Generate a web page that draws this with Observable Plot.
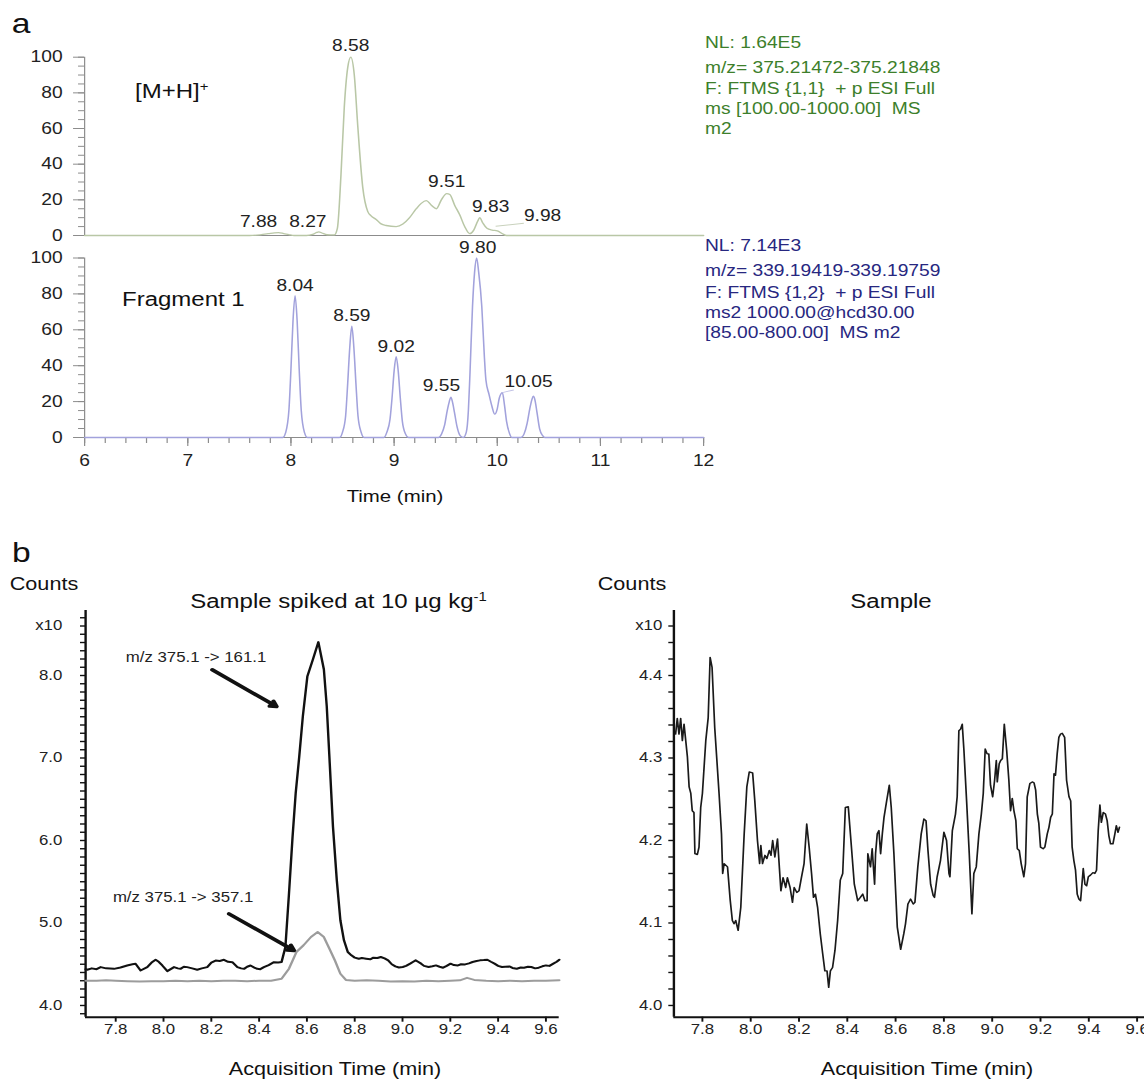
<!DOCTYPE html>
<html>
<head>
<meta charset="utf-8">
<script src="https://cdn.jsdelivr.net/npm/d3@7"></script>
<script src="https://cdn.jsdelivr.net/npm/@observablehq/plot@0.6"></script>
<style>
  html, body { margin: 0; padding: 0; background: #fff; overflow: hidden; width: 1144px; height: 1080px; }
  /* the whole figure is drawn with a slight horizontal stretch */
  #fig { position: absolute; left: 0; top: 0; width: 953.33px; height: 1080px;
         transform: scaleX(1.2); transform-origin: 0 0;
         font-family: "Liberation Sans", Arial, Helvetica, sans-serif; }
  .lbl { position: absolute; white-space: pre; line-height: 1; }
  .sup { font-size: 0.62em; position: relative; top: -0.55em; }
</style>
</head>
<body>
<div id="fig"></div>
<script>
// ---------------- panel a : extracted ion chromatograms (relative abundance, %) ----------------
const mhTime = [6.00, 7.60, 7.70, 7.78, 7.84, 7.88, 7.93, 7.98, 8.03, 8.15, 8.21, 8.25, 8.27, 8.30, 8.35, 8.42,
  8.45, 8.485, 8.517, 8.55, 8.58, 8.614, 8.647, 8.696, 8.744, 8.777, 8.826, 8.874, 8.923, 9.02, 9.085, 9.15,
  9.215, 9.263, 9.312, 9.361, 9.41, 9.458, 9.51, 9.54, 9.587, 9.636, 9.684, 9.733, 9.772, 9.81, 9.83, 9.86,
  9.90, 9.95, 10.00, 10.05, 10.09, 12.00];
const mhRel = [0, 0, 0.4, 1.0, 1.5, 1.6, 1.1, 0.5, 0, 0, 0.6, 1.7, 2.0, 1.4, 0.4, 0.3,
  4, 34, 72, 94, 100, 90, 62, 27, 13.5, 11, 9, 6.5, 5.6, 5, 6.4, 10,
  15, 18, 19.5, 17, 15, 20, 23.5, 23, 17, 11.6, 5, 1, 3, 8, 10, 7,
  4, 3, 2.6, 1, 0, 0];

const fragTime = [6.00, 7.92, 7.95, 7.98, 8.00, 8.02, 8.04, 8.06, 8.08, 8.10, 8.13, 8.16,
  8.47, 8.50, 8.53, 8.55, 8.57, 8.59, 8.61, 8.63, 8.65, 8.68, 8.71,
  8.90, 8.93, 8.96, 8.98, 9.00, 9.02, 9.04, 9.06, 9.08, 9.11, 9.14,
  9.43, 9.46, 9.49, 9.515, 9.535, 9.55, 9.565, 9.585, 9.61, 9.64, 9.67,
  9.70, 9.72, 9.735, 9.76, 9.78, 9.80, 9.82, 9.85, 9.875, 9.89, 9.92, 9.95, 9.975, 10.00, 10.02, 10.05,
  10.07, 10.09, 10.12, 10.14,
  10.23, 10.26, 10.29, 10.315, 10.335, 10.35, 10.365, 10.385, 10.41, 10.44, 10.46, 12.00];
const fragRel = [0, 0, 3, 15, 38, 65, 79, 65, 38, 15, 3, 0,
  0, 3, 12, 30, 50, 62, 50, 30, 12, 3, 0,
  0, 3, 10, 22, 37, 45, 37, 22, 9, 2, 0,
  0, 2, 7, 15, 20, 22.5, 20, 14, 6, 1, 0,
  3, 15, 35, 73, 92, 100, 92, 73, 45, 32, 24, 17, 13, 16, 22, 25,
  18, 9, 2, 0,
  0, 2, 8, 16, 21, 23, 21, 14, 5, 1, 0, 0];

// labelled apexes
const mhPeakTime = [8.58, 7.88, 8.27, 9.51, 9.83, 9.98];
const mhPeakRel = [100, 1.6, 2.0, 23.5, 10, 2.4];
const fragPeakTime = [8.04, 8.59, 9.02, 9.55, 9.80, 10.05];
const fragPeakRel = [79, 62, 45, 22.5, 100, 25];

const yTicksA = [0, 20, 40, 60, 80, 100];
const xTicksA = [6, 7, 8, 9, 10, 11, 12];

const nlMH = ["NL: 1.64E5", "m/z= 375.21472-375.21848", "F: FTMS {1,1}  + p ESI Full", "ms [100.00-1000.00]  MS", "m2"];
const nlFrag = ["NL: 7.14E3", "m/z= 339.19419-339.19759", "F: FTMS {1,2}  + p ESI Full", "ms2 1000.00@hcd30.00", "[85.00-800.00]  MS m2"];

// ---------------- panel b : MRM chromatograms (counts x10) ----------------
// quantifier transition m/z 375.1 -> 161.1, spiked sample
const quantIon = [
  [7.674, 4.44], [7.681, 4.433], [7.70, 4.45], [7.72, 4.44], [7.737, 4.465], [7.76, 4.45], [7.793, 4.444],
  [7.82, 4.46], [7.848, 4.485], [7.87, 4.50], [7.883, 4.505], [7.904, 4.424], [7.932, 4.465], [7.95, 4.52],
  [7.967, 4.554], [7.98, 4.53], [7.995, 4.485], [8.016, 4.416], [8.03, 4.44], [8.044, 4.465], [8.06, 4.45],
  [8.071, 4.444], [8.085, 4.47], [8.099, 4.465], [8.12, 4.45], [8.141, 4.433], [8.16, 4.45], [8.183, 4.465],
  [8.20, 4.52], [8.218, 4.545], [8.235, 4.54], [8.253, 4.554], [8.27, 4.53], [8.288, 4.525], [8.309, 4.465],
  [8.325, 4.45], [8.337, 4.444], [8.35, 4.47], [8.364, 4.485], [8.38, 4.46], [8.392, 4.444], [8.405, 4.44],
  [8.42, 4.465], [8.44, 4.49], [8.462, 4.525], [8.48, 4.52], [8.494, 4.527],
  [8.510, 4.709], [8.525, 5.358], [8.540, 6.047], [8.553, 6.573], [8.568, 7.019], [8.583, 7.506],
  [8.602, 7.992], [8.625, 8.195], [8.648, 8.405], [8.671, 8.073], [8.683, 7.627], [8.694, 7.019],
  [8.709, 6.168], [8.725, 5.520], [8.740, 5.033], [8.755, 4.790], [8.771, 4.648], [8.786, 4.608],
  [8.80, 4.58], [8.817, 4.567], [8.83, 4.575], [8.848, 4.567], [8.865, 4.56], [8.878, 4.58], [8.895, 4.575],
  [8.909, 4.588], [8.925, 4.57], [8.94, 4.547], [8.955, 4.50], [8.97, 4.474], [8.985, 4.46], [9.001, 4.466],
  [9.015, 4.48], [9.032, 4.507], [9.045, 4.53], [9.055, 4.547], [9.065, 4.53], [9.078, 4.507], [9.09, 4.48],
  [9.109, 4.466], [9.125, 4.475], [9.14, 4.486], [9.155, 4.47], [9.17, 4.458], [9.185, 4.48], [9.201, 4.507],
  [9.215, 4.49], [9.232, 4.486], [9.245, 4.50], [9.262, 4.498], [9.278, 4.51], [9.293, 4.527], [9.31, 4.54],
  [9.324, 4.547], [9.34, 4.55], [9.355, 4.555], [9.37, 4.53], [9.385, 4.507], [9.40, 4.48], [9.416, 4.466],
  [9.43, 4.47], [9.447, 4.474], [9.46, 4.455], [9.478, 4.446], [9.495, 4.46], [9.508, 4.458], [9.525, 4.47],
  [9.539, 4.466], [9.555, 4.45], [9.57, 4.458], [9.585, 4.475], [9.60, 4.486], [9.615, 4.48], [9.631, 4.507],
  [9.645, 4.53], [9.656, 4.555]
];
// qualifier transition m/z 375.1 -> 357.1, spiked sample
const qualTime = [7.674, 7.72, 7.76, 7.80, 7.85, 7.90, 7.95, 8.00, 8.05, 8.10, 8.15, 8.20, 8.25, 8.30, 8.35, 8.40,
  8.45, 8.494, 8.525, 8.556, 8.586, 8.617, 8.645, 8.671, 8.694, 8.717, 8.740, 8.763, 8.80, 8.85, 8.90, 8.95,
  9.00, 9.05, 9.10, 9.15, 9.20, 9.24, 9.27, 9.30, 9.35, 9.40, 9.45, 9.50, 9.55, 9.60, 9.656];
const qualCounts = [4.30, 4.30, 4.305, 4.30, 4.295, 4.29, 4.295, 4.295, 4.30, 4.295, 4.30, 4.295, 4.30, 4.30, 4.295, 4.30,
  4.30, 4.324, 4.446, 4.648, 4.73, 4.83, 4.89, 4.83, 4.69, 4.547, 4.385, 4.31, 4.30, 4.305, 4.30, 4.29,
  4.295, 4.29, 4.30, 4.295, 4.30, 4.305, 4.335, 4.31, 4.30, 4.295, 4.30, 4.295, 4.30, 4.30, 4.305];

// unspiked sample
const sampleTrace = [
  [7.689, 4.329], [7.696, 4.348], [7.703, 4.329], [7.710, 4.348], [7.717, 4.321], [7.724, 4.341], [7.731, 4.321],
  [7.738, 4.301], [7.745, 4.265], [7.752, 4.257], [7.758, 4.236], [7.765, 4.234], [7.769, 4.184], [7.779, 4.183],
  [7.786, 4.192], [7.793, 4.240], [7.800, 4.257], [7.814, 4.321], [7.824, 4.349], [7.832, 4.422], [7.840, 4.410],
  [7.851, 4.337], [7.869, 4.257], [7.879, 4.208], [7.884, 4.160], [7.890, 4.172], [7.904, 4.168], [7.915, 4.128],
  [7.924, 4.103], [7.931, 4.099], [7.938, 4.103], [7.948, 4.091], [7.959, 4.119], [7.973, 4.208], [7.984, 4.265],
  [7.994, 4.283], [8.008, 4.282], [8.017, 4.248], [8.028, 4.200], [8.037, 4.172], [8.042, 4.194], [8.049, 4.172],
  [8.059, 4.182], [8.067, 4.178], [8.077, 4.188], [8.084, 4.182], [8.091, 4.200], [8.100, 4.180], [8.111, 4.202],
  [8.125, 4.139], [8.134, 4.155], [8.145, 4.143], [8.152, 4.155], [8.163, 4.143], [8.173, 4.125], [8.180, 4.143],
  [8.191, 4.137], [8.200, 4.139], [8.210, 4.155], [8.221, 4.172], [8.232, 4.220], [8.242, 4.192], [8.252, 4.160],
  [8.260, 4.131], [8.268, 4.135], [8.277, 4.119], [8.288, 4.087], [8.298, 4.063], [8.307, 4.042], [8.316, 4.042],
  [8.323, 4.022], [8.330, 4.042], [8.339, 4.046], [8.349, 4.067], [8.360, 4.103], [8.371, 4.152], [8.381, 4.160],
  [8.392, 4.240], [8.404, 4.241], [8.415, 4.200], [8.429, 4.147], [8.443, 4.127], [8.454, 4.131], [8.464, 4.135],
  [8.473, 4.127], [8.482, 4.127], [8.485, 4.184], [8.496, 4.168], [8.503, 4.190], [8.513, 4.147], [8.517, 4.184],
  [8.524, 4.208], [8.531, 4.212], [8.538, 4.184], [8.545, 4.208], [8.552, 4.228], [8.563, 4.248], [8.574, 4.267],
  [8.582, 4.240], [8.593, 4.184], [8.607, 4.095], [8.621, 4.068], [8.634, 4.087], [8.641, 4.099], [8.651, 4.123],
  [8.662, 4.129], [8.673, 4.123], [8.680, 4.125], [8.692, 4.168], [8.706, 4.208], [8.717, 4.226], [8.726, 4.224],
  [8.734, 4.188], [8.745, 4.147], [8.756, 4.133], [8.761, 4.131], [8.772, 4.156], [8.786, 4.176], [8.800, 4.210],
  [8.811, 4.200], [8.821, 4.160], [8.825, 4.156], [8.835, 4.212], [8.848, 4.232], [8.855, 4.253], [8.862, 4.333],
  [8.869, 4.335], [8.876, 4.341], [8.883, 4.309], [8.894, 4.248], [8.905, 4.184], [8.916, 4.111], [8.924, 4.160],
  [8.934, 4.168], [8.945, 4.208], [8.955, 4.232], [8.963, 4.257], [8.971, 4.311], [8.979, 4.305], [8.986, 4.305],
  [8.993, 4.267], [9.002, 4.253], [9.010, 4.273], [9.017, 4.297], [9.021, 4.271], [9.029, 4.293], [9.035, 4.297],
  [9.042, 4.299], [9.050, 4.341], [9.060, 4.309], [9.069, 4.273], [9.076, 4.236], [9.083, 4.251], [9.090, 4.236],
  [9.098, 4.224], [9.104, 4.190], [9.112, 4.188], [9.120, 4.172], [9.131, 4.156], [9.138, 4.172], [9.145, 4.253],
  [9.156, 4.269], [9.166, 4.271], [9.173, 4.270], [9.180, 4.261], [9.187, 4.232], [9.193, 4.221], [9.200, 4.192],
  [9.211, 4.190], [9.218, 4.192], [9.228, 4.208], [9.235, 4.216], [9.242, 4.228], [9.249, 4.232], [9.256, 4.281],
  [9.262, 4.279], [9.269, 4.305], [9.276, 4.325], [9.283, 4.329], [9.290, 4.330], [9.300, 4.325], [9.308, 4.273],
  [9.318, 4.253], [9.325, 4.248], [9.331, 4.192], [9.338, 4.176], [9.345, 4.164], [9.352, 4.135], [9.359, 4.129],
  [9.366, 4.127], [9.377, 4.166], [9.384, 4.147], [9.391, 4.145], [9.398, 4.156], [9.407, 4.158], [9.417, 4.161],
  [9.425, 4.160], [9.432, 4.164], [9.439, 4.212], [9.446, 4.243], [9.452, 4.222], [9.460, 4.234], [9.469, 4.232],
  [9.476, 4.224], [9.483, 4.206], [9.490, 4.196], [9.500, 4.196], [9.508, 4.208], [9.514, 4.218], [9.521, 4.210],
  [9.527, 4.216]
];

const xTicksB = [7.8, 8.0, 8.2, 8.4, 8.6, 8.8, 9.0, 9.2, 9.4, 9.6];
const yTicksSpiked = [4, 5, 6, 7, 8];
const yTicksSample = [4.0, 4.1, 4.2, 4.3, 4.4];
const transitionLabels = ["m/z 375.1 -> 161.1", "m/z 375.1 -> 357.1"];

// ---------------- layout ----------------
const S = 1.2;                 // horizontal stretch applied to #fig
const W = 1144 / S;            // unstretched page width
const FONT = "'Liberation Sans', Arial, Helvetica, sans-serif";
const AXIS_GRAY = "#8c8c8c";
const INK = "#222";
const fig = document.getElementById("fig");

function place(svg, left, top) {
  Object.assign(svg.style, {position: "absolute", left: left + "px", top: top + "px",
    maxWidth: "none", overflow: "visible", background: "transparent"});
  fig.appendChild(svg);
}
function label(html, xPage, baseline, size, {anchor = "start", color = "#111"} = {}) {
  const d = document.createElement("div");
  d.className = "lbl";
  d.innerHTML = html;
  d.style.fontSize = size + "px";
  d.style.color = color;
  d.style.left = (xPage / S) + "px";
  d.style.top = (baseline - 0.8465 * size) + "px";
  if (anchor === "middle") d.style.transform = "translateX(-50%)";
  fig.appendChild(d);
}
const style = {fontFamily: FONT, background: "transparent", overflow: "visible"};
const fmt2 = d3.format(".2f");
const fmt1 = d3.format(".1f");
const noText = () => "";

// ---- a, top: [M+H]+ ----
const mh = mhTime.map((t, i) => ({t, v: mhRel[i]}));
const mhPeaks = mhPeakTime.map((t, i) => ({t, v: mhPeakRel[i]}));
// label offsets from apex (page px)
const mhLabelShift = [[0, -11.7], [-20, -10.4], [-11, -9.7], [0, -12], [11, -11], [47.4, -15.2]];

const xA = {domain: [6, 12], axis: null, label: null};
const yA = {domain: [0, 100], axis: null, label: null};
const A1 = Plot.plot({
  width: W, height: 240,
  marginLeft: 84 / S, marginRight: W - 703 / S, marginTop: 56.7, marginBottom: 5,
  x: xA, y: yA, style,
  marks: [
    Plot.ruleY([0], {stroke: AXIS_GRAY}),
    Plot.ruleX([6], {y1: 0, y2: 100, stroke: AXIS_GRAY}),
    Plot.axisY(d3.range(0, 101, 5), {anchor: "left", label: null, tickSize: 6 / S, tickFormat: noText, stroke: AXIS_GRAY}),
    Plot.axisY(yTicksA, {anchor: "left", label: null, tickSize: 11 / S, tickFormat: noText, stroke: AXIS_GRAY}),
    Plot.axisY(yTicksA, {anchor: "left", label: null, tickSize: 0, tickPadding: 22 / S, fontSize: 16, fill: INK}),
    Plot.line(mh, {x: "t", y: "v", stroke: "#b9c7a6", strokeWidth: 1.3, curve: "monotone-x"}),
    Plot.link([{a: 9.984, b: 5.2, c: 10.258, d: 6.9}], {x1: "a", y1: "b", x2: "c", y2: "d", stroke: "#c9d2bd", strokeWidth: 1}),
    ...mhPeaks.map((p, i) => Plot.text([p], {x: "t", y: "v", text: d => fmt2(d.t),
      dx: mhLabelShift[i][0] / S, dy: mhLabelShift[i][1], fontSize: 16, fill: INK}))
  ]
});
place(A1, 0, 0);

// ---- a, bottom: Fragment 1 ----
const frag = fragTime.map((t, i) => ({t, v: fragRel[i]}));
const fragPeaks = fragPeakTime.map((t, i) => ({t, v: fragPeakRel[i]}));
const fragLabelShift = [[0, -9.5], [0, -10.7], [0, -10.2], [-9.3, -10.9], [1, -10.2], [26.2, -10.4]];
const minorA = d3.range(30, 61).map(i => i / 5);

const A2 = Plot.plot({
  width: W, height: 270,
  marginLeft: 84 / S, marginRight: W - 703 / S, marginTop: 17.5, marginBottom: 73,
  x: xA, y: yA, style,
  marks: [
    Plot.ruleY([0], {stroke: AXIS_GRAY}),
    Plot.ruleX([6], {y1: 0, y2: 100, stroke: AXIS_GRAY}),
    Plot.axisY(d3.range(0, 101, 5), {anchor: "left", label: null, tickSize: 6 / S, tickFormat: noText, stroke: AXIS_GRAY}),
    Plot.axisY(yTicksA, {anchor: "left", label: null, tickSize: 11 / S, tickFormat: noText, stroke: AXIS_GRAY}),
    Plot.axisY(yTicksA, {anchor: "left", label: null, tickSize: 0, tickPadding: 22 / S, fontSize: 16, fill: INK}),
    Plot.axisX(minorA, {anchor: "bottom", label: null, tickSize: 6, tickFormat: noText, stroke: AXIS_GRAY}),
    Plot.axisX(xTicksA, {anchor: "bottom", label: null, tickSize: 9, tickFormat: noText, stroke: AXIS_GRAY}),
    Plot.axisX(xTicksA, {anchor: "bottom", label: null, tickSize: 0, tickPadding: 17.3, fontSize: 16, fill: INK}),
    Plot.line(frag, {x: "t", y: "v", stroke: "#a2a2dc", strokeWidth: 1.3, curve: "monotone-x"}),
    Plot.link([{a: 10.05, b: 25, c: 10.16, d: 26.5}], {x1: "a", y1: "b", x2: "c", y2: "d", stroke: "#c3c3e6", strokeWidth: 1}),
    ...fragPeaks.map((p, i) => Plot.text([p], {x: "t", y: "v", text: d => fmt2(d.t),
      dx: fragLabelShift[i][0] / S, dy: fragLabelShift[i][1], fontSize: 16, fill: INK}))
  ]
});
place(A2, 0, 240);

// ---- b, left: spiked sample ----
const quant = quantIon.map(([t, v]) => ({t, v}));
const qual = qualTime.map((t, i) => ({t, v: qualCounts[i]}));
const xDomB1 = [7.674, 9.656];
const yDomB1 = [3.858, 8.788];
// callout text anchors and arrow ends (data coordinates)
const callouts = [
  {text: transitionLabels[0], tx: 8.136, ty: 8.222, x1: 8.204, y1: 8.069, x2: 8.473, y2: 7.624},
  {text: transitionLabels[1], tx: 8.082, ty: 5.313, x1: 8.274, y1: 5.111, x2: 8.546, y2: 4.667}
];
const B1 = Plot.plot({
  width: 480, height: 480,
  marginLeft: 85 / S, marginRight: 480 - 558.7 / S, marginTop: 10, marginBottom: 63.3,
  x: {domain: xDomB1, axis: null, label: null}, y: {domain: yDomB1, axis: null, label: null}, style,
  marks: [
    Plot.axisY(d3.range(39, 88).map(i => i / 10), {anchor: "left", label: null, tickSize: 5 / S, tickFormat: noText, stroke: "#111", strokeWidth: 1.4}),
    Plot.axisY(yTicksSpiked, {anchor: "left", label: null, tickSize: 0, tickPadding: 23.3 / S, tickFormat: fmt1, fontSize: 14, fill: INK}),
    Plot.axisY([8.6], {anchor: "left", label: null, tickSize: 0, tickPadding: 23.3 / S, tickFormat: () => "x10", fontSize: 14, fill: INK}),
    Plot.axisX(xTicksB, {anchor: "bottom", label: null, tickSize: 5, tickFormat: noText, stroke: "#111", strokeWidth: 1.6}),
    Plot.axisX(xTicksB, {anchor: "bottom", label: null, tickSize: 0, tickPadding: 7, tickFormat: fmt1, fontSize: 14, fill: INK}),
    Plot.ruleX([xDomB1[0]], {stroke: "#111", strokeWidth: 2}),
    Plot.ruleY([yDomB1[0]], {stroke: "#111", strokeWidth: 2}),
    Plot.line(qual, {x: "t", y: "v", stroke: "#9c9c9c", strokeWidth: 2}),
    Plot.line(quant, {x: "t", y: "v", stroke: "#111", strokeWidth: 2}),
    Plot.arrow(callouts, {x1: "x1", y1: "y1", x2: "x2", y2: "y2", stroke: "#111", strokeWidth: 3.5, headLength: 2.5}),
    Plot.text(callouts, {x: "tx", y: "ty", text: "text", fontSize: 14, fill: INK})
  ]
});
place(B1, 0, 600);

// ---- b, right: sample ----
const sample = sampleTrace.map(([t, v]) => ({t, v}));
const xDomB2 = [7.682, 9.66];
const yDomB2 = [3.9858, 4.4788];
const B2W = W - 480 + 20;
const B2 = Plot.plot({
  width: B2W, height: 480,
  marginLeft: 673.3 / S - 480, marginRight: B2W - (1151 / S - 480), marginTop: 10, marginBottom: 63.3,
  x: {domain: xDomB2, axis: null, label: null}, y: {domain: yDomB2, axis: null, label: null}, style,
  marks: [
    Plot.axisY(d3.range(200, 224).map(i => i / 50), {anchor: "left", label: null, tickSize: 5 / S, tickFormat: noText, stroke: "#111", strokeWidth: 1.4}),
    Plot.axisY(yTicksSample, {anchor: "left", label: null, tickSize: 0, tickPadding: 11.6 / S, tickFormat: fmt1, fontSize: 14, fill: INK}),
    Plot.axisY([4.46], {anchor: "left", label: null, tickSize: 0, tickPadding: 11.6 / S, tickFormat: () => "x10", fontSize: 14, fill: INK}),
    Plot.axisX(xTicksB, {anchor: "bottom", label: null, tickSize: 5, tickFormat: noText, stroke: "#111", strokeWidth: 1.6}),
    Plot.axisX(xTicksB, {anchor: "bottom", label: null, tickSize: 0, tickPadding: 7, tickFormat: fmt1, fontSize: 14, fill: INK}),
    Plot.ruleX([xDomB2[0]], {stroke: "#111", strokeWidth: 2}),
    Plot.ruleY([yDomB2[0]], {stroke: "#111", strokeWidth: 2}),
    Plot.line(sample, {x: "t", y: "v", stroke: "#1a1a1a", strokeWidth: 1.4})
  ]
});
place(B2, 480, 600);

// ---------------- text ----------------
label("a", 11.7, 33.3, 28);
label("[M+H]<span class='sup'>+</span>", 135, 98, 20);
label("Fragment 1", 122, 306, 20);
[48.3, 73.3, 95, 115, 135].forEach((y, i) => label(nlMH[i], 705, y, 16, {color: "#3d7f2b"}));
[251.7, 276.7, 298.3, 318.3, 338.3].forEach((y, i) => label(nlFrag[i], 705, y, 16, {color: "#272780"}));
label("Time (min)", 395, 502.5, 17, {anchor: "middle"});

label("b", 12, 563, 28);
label("Counts", 44, 590, 18, {anchor: "middle"});
label("Counts", 632, 590, 18, {anchor: "middle"});
label("Sample spiked at 10 µg kg<span class='sup'>-1</span>", 338.5, 608, 20, {anchor: "middle"});
label("Sample", 891, 608, 20, {anchor: "middle"});
label("Acquisition Time (min)", 335, 1075, 18, {anchor: "middle"});
label("Acquisition Time (min)", 927, 1075, 18, {anchor: "middle"});
</script>
</body>
</html>
